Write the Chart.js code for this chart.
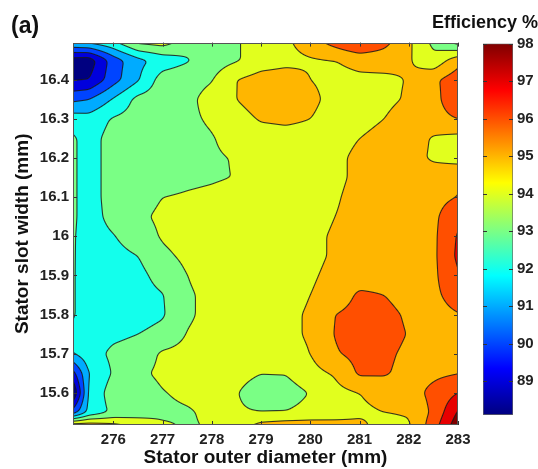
<!DOCTYPE html>
<html lang="en">
<head>
<meta charset="UTF-8" />
<title>Efficiency contour (a)</title>
<script src="https://cdn.jsdelivr.net/npm/chart.js"></script>
<style>
  body { margin: 0; background: #fff; }
  .wrap { position: relative; width: 538px; height: 469px; }
  #main { position: absolute; left: 0; top: 0; }
  #bar { position: absolute; left: 420px; top: 0; }
</style>
</head>
<body>
<div class="wrap">
  <canvas id="main" width="538" height="469"></canvas>
  <canvas id="bar" width="118" height="469"></canvas>
</div>
<script>
// grid of the contour map
const xs = [275.2, 275.5, 276, 276.5, 277, 277.5, 278, 278.5, 279, 279.5, 280, 280.5, 281, 281.5, 282, 282.5, 283];
const ys = [16.5, 16.45, 16.4, 16.35, 16.3, 16.25, 16.2, 16.15, 16.1, 16.05, 16.0, 15.95, 15.9, 15.85, 15.8, 15.75, 15.7, 15.65, 15.6, 15.55, 15.52];
const eff = [
  [92.3, 92.5, 93.0, 94.4, 94.6, 93.6, 93.6, 93.9, 94.5, 94.8, 95.6, 96.5, 97.3, 96.4, 95.2, 93.7, 92.4],
  [88.5, 88.4, 90.5, 91.7, 92.4, 92.9, 93.5, 93.9, 94.5, 94.7, 94.9, 95.0, 95.3, 95.4, 95.1, 94.3, 95.6],
  [88.9, 89.0, 90.6, 91.9, 93.5, 93.7, 93.95, 95.0, 95.4, 95.5, 95.0, 94.7, 94.8, 94.8, 95.05, 95.8, 96.6],
  [90.8, 91.0, 92.1, 93.3, 93.5, 93.8, 94.3, 95.0, 95.5, 95.6, 95.3, 94.6, 94.7, 94.8, 95.1, 95.6, 96.9],
  [92.5, 92.4, 93.1, 93.4, 93.6, 93.85, 94.1, 94.6, 95.1, 95.2, 95.0, 94.5, 94.6, 95.0, 95.4, 95.6, 96.0],
  [93.1, 92.6, 93.4, 93.5, 93.6, 93.8, 93.95, 94.3, 94.5, 94.6, 94.6, 94.7, 95.0, 95.4, 95.5, 94.9, 94.7],
  [93.1, 92.6, 93.4, 93.5, 93.7, 93.8, 93.9, 94.05, 94.5, 94.6, 94.6, 94.8, 95.2, 95.4, 95.4, 94.85, 94.6],
  [93.1, 92.6, 93.4, 93.5, 93.6, 93.8, 93.9, 94.03, 94.5, 94.6, 94.6, 94.8, 95.2, 95.5, 95.6, 95.6, 95.9],
  [93.1, 92.6, 93.4, 93.6, 94.0, 94.1, 94.2, 94.4, 94.5, 94.6, 94.6, 94.9, 95.3, 95.5, 95.6, 95.7, 96.02],
  [93.1, 92.6, 93.3, 93.8, 94.2, 94.3, 94.4, 94.5, 94.6, 94.6, 94.7, 95.0, 95.3, 95.5, 95.6, 95.8, 96.7],
  [93.05, 92.6, 92.95, 93.5, 94.1, 94.4, 94.5, 94.5, 94.6, 94.7, 94.8, 95.1, 95.3, 95.5, 95.6, 95.8, 97.1],
  [93.05, 92.5, 92.7, 93.0, 93.8, 94.2, 94.4, 94.5, 94.6, 94.7, 94.8, 95.1, 95.3, 95.5, 95.6, 95.8, 97.2],
  [93.05, 92.4, 92.5, 92.7, 93.4, 94.0, 94.3, 94.5, 94.6, 94.7, 94.9, 95.2, 95.4, 95.5, 95.6, 95.8, 96.9],
  [93.05, 92.4, 92.5, 92.6, 92.95, 93.9, 94.2, 94.4, 94.6, 94.7, 95.0, 95.3, 96.2, 96.0, 95.6, 95.8, 96.4],
  [93.05, 92.4, 92.5, 92.6, 92.9, 93.85, 94.3, 94.4, 94.6, 94.8, 95.1, 96.0, 96.4, 96.3, 95.85, 95.7, 95.95],
  [92.7, 92.5, 92.8, 93.0, 93.3, 94.05, 94.3, 94.5, 94.6, 94.8, 95.1, 96.05, 96.5, 96.4, 95.95, 95.6, 95.7],
  [92.0, 92.6, 93.2, 93.4, 94.15, 94.3, 94.4, 94.5, 94.6, 94.7, 95.0, 95.9, 96.3, 96.2, 95.8, 95.6, 95.8],
  [89.8, 92.0, 93.1, 93.8, 94.2, 94.4, 94.4, 94.3, 94.02, 94.05, 94.7, 95.1, 96.15, 96.1, 95.7, 95.8, 95.95],
  [88.2, 92.2, 93.5, 93.5, 93.95, 94.2, 94.3, 94.05, 93.5, 93.5, 94.05, 94.7, 95.0, 95.4, 95.6, 96.25, 97.0],
  [90.6, 92.3, 93.2, 93.5, 93.8, 93.9, 94.2, 94.1, 94.02, 94.05, 94.3, 94.5, 94.8, 95.0, 95.1, 96.2, 98.1],
  [95.2, 95.3, 95.1, 94.6, 94.1, 93.9, 94.1, 94.4, 95.2, 95.4, 95.4, 95.3, 95.2, 94.6, 94.9, 96.5, 98.6]
];
const levels = [89, 90, 91, 92, 93, 94, 95, 96, 97, 98];
const xTicks = [276, 277, 278, 279, 280, 281, 282, 283];
const yTicks = [15.6, 15.7, 15.8, 15.9, 16.0, 16.1, 16.2, 16.3, 16.4];
const cbTicks = [89, 90, 91, 92, 93, 94, 95, 96, 97, 98];
const xMin = 275.18, xMax = 283;
const yMin = 15.518, yMax = 16.495;
const cMin = 88.1, cMax = 98;

const FONT = 'Liberation Sans, Arial, sans-serif';

function jet(t) {
  const c = v => Math.max(0, Math.min(1, v));
  return [c(1.5 - Math.abs(4 * t - 3)), c(1.5 - Math.abs(4 * t - 2)), c(1.5 - Math.abs(4 * t - 1))].map(v => Math.round(v * 255));
}

function bandColor(v) {
  let b = Math.floor(v);
  if (b < levels[0]) b = levels[0] - 1;
  if (b > levels[levels.length - 1]) b = levels[levels.length - 1];
  const t = Math.max(0, Math.min(1, (b - cMin) / (cMax - cMin)));
  return jet(t);
}

// bilinear inside the grid, linear carry-on a few pixels past its edge
function fieldAt(vx, vy) {
  let i = 0;
  while (i < xs.length - 2 && vx > xs[i + 1]) i++;
  let j = 0;
  while (j < ys.length - 2 && vy < ys[j + 1]) j++;
  const tx = Math.min(1.3, Math.max(-0.3, (vx - xs[i]) / (xs[i + 1] - xs[i])));
  const ty = Math.min(1.3, Math.max(-0.3, (ys[j] - vy) / (ys[j] - ys[j + 1])));
  const a = eff[j][i], b = eff[j][i + 1], c = eff[j + 1][i], d = eff[j + 1][i + 1];
  return a * (1 - tx) * (1 - ty) + b * tx * (1 - ty) + c * (1 - tx) * ty + d * tx * ty;
}

function boxBlur(src, w, h, r) {
  const tmp = new Float32Array(w * h), out = new Float32Array(w * h);
  for (let y = 0; y < h; y++) {
    for (let x = 0; x < w; x++) {
      let s = 0, n = 0;
      for (let k = -r; k <= r; k++) {
        const xx = Math.min(w - 1, Math.max(0, x + k));
        s += src[y * w + xx]; n++;
      }
      tmp[y * w + x] = s / n;
    }
  }
  for (let y = 0; y < h; y++) {
    for (let x = 0; x < w; x++) {
      let s = 0, n = 0;
      for (let k = -r; k <= r; k++) {
        const yy = Math.min(h - 1, Math.max(0, y + k));
        s += tmp[yy * w + x]; n++;
      }
      out[y * w + x] = s / n;
    }
  }
  return out;
}

// filled contour bands + contour lines, drawn through the chart scales
const contourPlugin = {
  id: 'contourField',
  beforeDatasetsDraw(chart) {
    const { ctx, chartArea: a, scales: { x, y } } = chart;
    const left = Math.round(a.left), top = Math.round(a.top);
    const w = Math.round(a.right) - left, h = Math.round(a.bottom) - top;
    const R = 6;
    const W = w + 2 * R, H = h + 2 * R;
    let f = new Float32Array(W * H);
    for (let r = 0; r < H; r++) {
      const vy = y.getValueForPixel(top - R + r + 0.5);
      for (let c = 0; c < W; c++) {
        f[r * W + c] = fieldAt(x.getValueForPixel(left - R + c + 0.5), vy);
      }
    }
    f = boxBlur(boxBlur(f, W, H, 2), W, H, 2);
    const val = (r, c) => f[(r + R) * W + (c + R)];
    const img = ctx.createImageData(w, h);
    for (let r = 0; r < h; r++) {
      for (let c = 0; c < w; c++) {
        const v = val(r, c);
        const col = bandColor(v);
        const gx = (val(r, c + 1) - val(r, c - 1)) / 2;
        const gy = (val(r + 1, c) - val(r - 1, c)) / 2;
        const g = Math.hypot(gx, gy);
        const L = Math.round(v);
        let alpha = 0;
        if (L >= levels[0] && L <= levels[levels.length - 1] && g > 1e-6) {
          const dist = Math.abs(v - L) / g;
          alpha = Math.max(0, Math.min(1, 1.05 - dist)) * 0.85;
        }
        const p = (r * w + c) * 4;
        img.data[p] = col[0] * (1 - alpha) + 25 * alpha;
        img.data[p + 1] = col[1] * (1 - alpha) + 25 * alpha;
        img.data[p + 2] = col[2] * (1 - alpha) + 25 * alpha;
        img.data[p + 3] = 255;
      }
    }
    ctx.putImageData(img, left, top);
  }
};

// box and inward tick marks like the original figure
const framePlugin = {
  id: 'frame',
  afterDraw(chart) {
    const { ctx, chartArea: a, scales: { x, y } } = chart;
    ctx.save();
    ctx.strokeStyle = '#333';
    ctx.lineWidth = 1;
    ctx.beginPath();
    x.ticks.forEach(t => {
      const px = Math.round(x.getPixelForValue(t.value)) + 0.5;
      ctx.moveTo(px, a.bottom); ctx.lineTo(px, a.bottom - 4);
      ctx.moveTo(px, a.top); ctx.lineTo(px, a.top + 4);
    });
    y.ticks.forEach(t => {
      const py = Math.round(y.getPixelForValue(t.value)) + 0.5;
      ctx.moveTo(a.left, py); ctx.lineTo(a.left + 4, py);
      ctx.moveTo(a.right, py); ctx.lineTo(a.right - 4, py);
    });
    ctx.stroke();
    ctx.strokeStyle = '#555';
    ctx.strokeRect(Math.round(a.left) + 0.5, Math.round(a.top) + 0.5, Math.round(a.right - a.left) - 1, Math.round(a.bottom - a.top) - 1);
    ctx.restore();
  }
};

new Chart(document.getElementById('main'), {
  type: 'scatter',
  data: { datasets: [] },
  options: {
    responsive: false,
    animation: false,
    layout: { padding: { left: 11, right: 80, top: 0, bottom: 0 } },
    plugins: {
      legend: { display: false },
      tooltip: { enabled: false },
      title: {
        display: true, text: '(a)', align: 'start', color: '#111',
        font: { family: FONT, size: 23, weight: 'bold' },
        padding: { top: 13, bottom: 2 }
      }
    },
    scales: {
      x: {
        type: 'linear', min: xMin, max: xMax,
        afterBuildTicks: s => { s.ticks = xTicks.map(v => ({ value: v })); },
        afterFit: s => { s.height = 44; },
        grid: { display: false, drawTicks: false },
        border: { display: false },
        ticks: { color: '#222', padding: 6, maxRotation: 0, autoSkip: false, font: { family: FONT, size: 15, weight: 'bold' }, callback: v => String(v) },
        title: { display: true, text: 'Stator outer diameter (mm)', color: '#111', padding: { top: 0, bottom: 0 }, font: { family: FONT, size: 19, weight: 'bold' } }
      },
      y: {
        type: 'linear', min: yMin, max: yMax,
        afterBuildTicks: s => { s.ticks = yTicks.map(v => ({ value: v })); },
        afterFit: s => { s.width = 62; },
        grid: { display: false, drawTicks: false },
        border: { display: false },
        ticks: { color: '#222', padding: 4, autoSkip: false, font: { family: FONT, size: 15, weight: 'bold' }, callback: v => String(+v.toFixed(1)) },
        title: { display: true, text: 'Stator slot width (mm)', color: '#111', padding: { top: 0, bottom: 0 }, font: { family: FONT, size: 19, weight: 'bold' } }
      }
    }
  },
  plugins: [contourPlugin, framePlugin]
});

// colour bar
const barTicksPlugin = {
  id: 'barTicks',
  afterDatasetsDraw(chart) {
    const { ctx, chartArea: a, scales: { y } } = chart;
    ctx.save();
    ctx.strokeStyle = '#333';
    ctx.lineWidth = 1;
    ctx.beginPath();
    y.ticks.forEach(t => {
      const py = Math.round(y.getPixelForValue(t.value)) + 0.5;
      ctx.moveTo(a.left, py); ctx.lineTo(a.left + 4, py);
      ctx.moveTo(a.right - 4, py); ctx.lineTo(a.right, py);
    });
    ctx.stroke();
    ctx.restore();
  }
};

new Chart(document.getElementById('bar'), {
  type: 'bar',
  data: {
    labels: [''],
    datasets: [{
      data: [[cMin, cMax]],
      yAxisID: 'y',
      barPercentage: 1,
      categoryPercentage: 1,
      borderColor: '#666',
      borderWidth: 1,
      borderSkipped: false,
      backgroundColor: c => {
        const chart = c.chart;
        if (!chart.chartArea) return 'rgba(0,0,0,0)';
        const s = chart.scales.y;
        const g = chart.ctx.createLinearGradient(0, s.getPixelForValue(cMin), 0, s.getPixelForValue(cMax));
        for (let k = 0; k <= 64; k++) {
          const col = jet(k / 64);
          g.addColorStop(k / 64, `rgb(${col[0]},${col[1]},${col[2]})`);
        }
        return g;
      }
    }]
  },
  options: {
    responsive: false,
    animation: false,
    layout: { padding: { left: 0, right: 0, top: 0, bottom: 54 } },
    plugins: {
      legend: { display: false },
      tooltip: { enabled: false },
      title: {
        display: true, text: 'Efficiency %', align: 'end', color: '#111',
        font: { family: FONT, size: 18, weight: 'bold' },
        padding: { top: 12, bottom: 10 }
      }
    },
    scales: {
      x: { display: false },
      pad: {
        axis: 'y', position: 'left', display: true,
        afterFit: s => { s.width = 63; },
        ticks: { display: false }, grid: { display: false }, border: { display: false }
      },
      y: {
        type: 'linear', position: 'right', min: cMin, max: cMax,
        afterBuildTicks: s => { s.ticks = cbTicks.map(v => ({ value: v })); },
        afterFit: s => { s.width = 25; },
        grid: { display: false, drawTicks: false },
        border: { display: false },
        ticks: { color: '#222', padding: 4, autoSkip: false, font: { family: FONT, size: 15, weight: 'bold' }, callback: v => String(v) }
      }
    }
  },
  plugins: [barTicksPlugin]
});
</script>
</body>
</html>
